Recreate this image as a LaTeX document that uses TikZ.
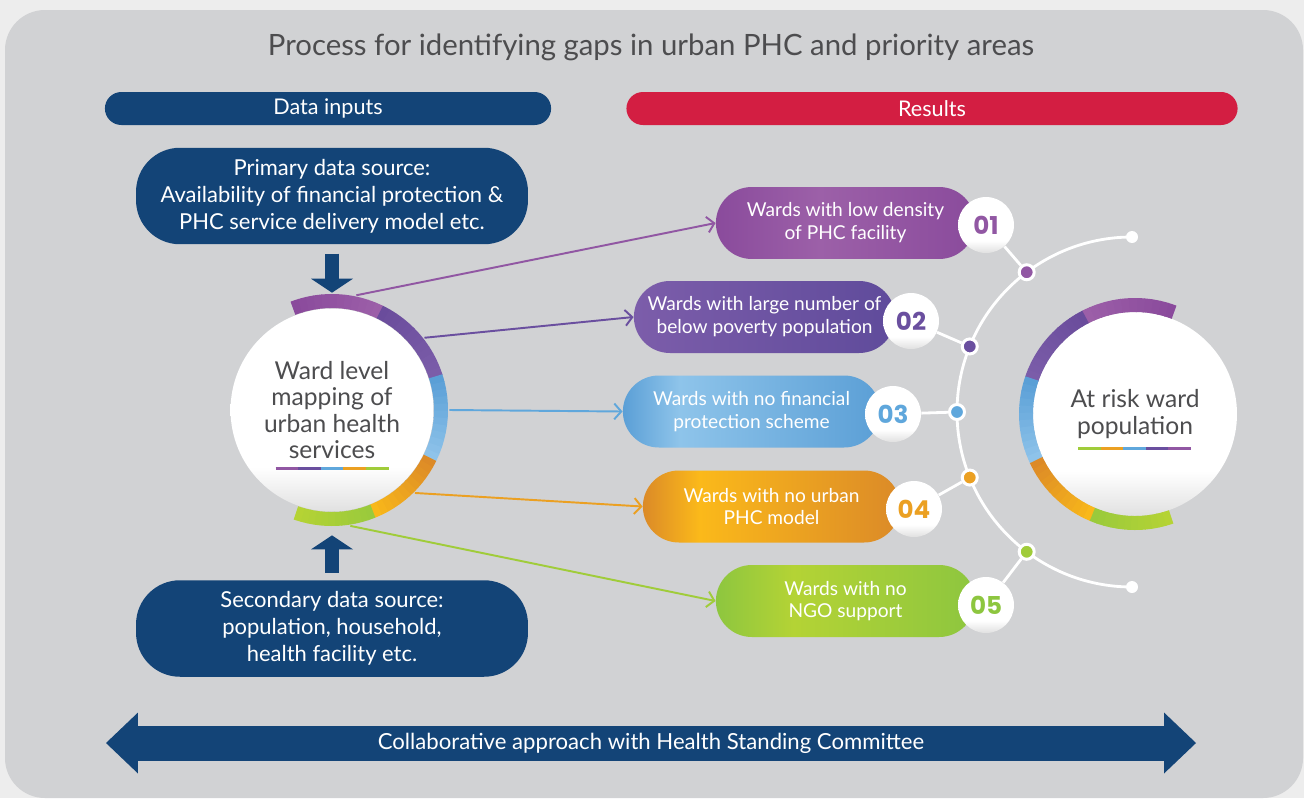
\documentclass[tikz,border=0pt]{standalone}
\usepackage{fontspec}
\setmainfont{Lato}
\newfontfamily\numfont{Poppins}
\usetikzlibrary{arrows.meta,shapes.misc,calc}

\definecolor{outerbg}{HTML}{EDEDED}
\definecolor{panelgray}{HTML}{D1D2D4}
\definecolor{navy}{HTML}{134477}
\definecolor{resred}{HTML}{D31E42}
\definecolor{txtgray}{HTML}{4D4D4F}
\definecolor{purpA}{HTML}{9157A3}
\definecolor{purpB}{HTML}{6A4F9F}
\definecolor{blueC}{HTML}{5FA7DC}
\definecolor{orngC}{HTML}{EBA022}
\definecolor{grenC}{HTML}{A0CC3A}

% ring colours (start / end of each segment)
\definecolor{rPAa}{HTML}{8A4A9C}
\definecolor{rPAb}{HTML}{9C5FA8}
\definecolor{rPBa}{HTML}{6A4C9C}
\definecolor{rPBb}{HTML}{7B5DA9}
\definecolor{rBLa}{HTML}{5A9FD6}
\definecolor{rBLb}{HTML}{8EC3EA}
\definecolor{rORa}{HTML}{DC8A27}
\definecolor{rORb}{HTML}{F9B81A}
\definecolor{rGRa}{HTML}{9ACA3C}
\definecolor{rGRb}{HTML}{B5D334}

% pill colours
\definecolor{pOneD}{HTML}{8A4B9C}
\definecolor{pOneL}{HTML}{9C60A8}
\definecolor{pTwoL}{HTML}{7C5DAA}
\definecolor{pTwoD}{HTML}{5F4B9B}
\definecolor{pThrD}{HTML}{5B9FD6}
\definecolor{pThrL}{HTML}{8EC4EA}
\definecolor{pFouD}{HTML}{DB8A28}
\definecolor{pFouL}{HTML}{FBB91A}
\definecolor{pFivD}{HTML}{8DC63F}
\definecolor{pFivL}{HTML}{B4D335}

\pgfdeclareverticalshading{discshade}{100bp}{color(0bp)=(black!14); color(25bp)=(black!12); color(36bp)=(white); color(100bp)=(white)}
\pgfdeclarehorizontalshading{pillone}{100bp}{color(0bp)=(pOneD); color(25bp)=(pOneD); color(45bp)=(pOneL); color(75bp)=(pOneD); color(100bp)=(pOneD)}
\pgfdeclarehorizontalshading{pilltwo}{100bp}{color(0bp)=(pTwoL); color(25bp)=(pTwoL); color(75bp)=(pTwoD); color(100bp)=(pTwoD)}
\pgfdeclarehorizontalshading{pillthree}{100bp}{color(0bp)=(pThrD); color(25bp)=(pThrD); color(36bp)=(pThrL); color(75bp)=(pThrD); color(100bp)=(pThrD)}
\pgfdeclarehorizontalshading{pillfour}{100bp}{color(0bp)=(pFouD); color(25bp)=(pFouD); color(36bp)=(pFouL); color(75bp)=(pFouD); color(100bp)=(pFouD)}
\pgfdeclarehorizontalshading{pillfive}{100bp}{color(0bp)=(pFivD); color(25bp)=(pFivD); color(40bp)=(pFivL); color(75bp)=(pFivD); color(100bp)=(pFivD)}

\begin{document}
\begin{tikzpicture}[x=0.02cm, y=0.02cm,
    bar/.style={rounded rectangle, minimum height=0.66cm, text=white, font=\fontsize{12.3}{14}\selectfont},
    srcbox/.style={fill=navy, rounded corners=25pt, minimum width=7.84cm, minimum height=1.93cm, text=white, align=center, font=\fontsize{12.5}{15.4}\selectfont},
    disc/.style={circle, shade, shading=discshade, inner sep=0pt, text=txtgray, align=center, font=\fontsize{14}{15}\selectfont},
    ringzone/.style={circle, minimum size=4.68cm, inner sep=0pt},
    ring/.style={draw=#1, line width=0.28cm},
    pill/.style={rounded rectangle, shade, shading=#1, minimum height=1.44cm, text=white, align=center, font=\fontsize{10.9}{13}\selectfont},
    badge/.style={circle, shade, shading=discshade, minimum size=1.12cm, inner sep=0pt, text=#1, font=\numfont\bfseries\fontsize{14}{14}\selectfont},
    link/.style={draw=#1, line width=1.1pt, -{Straight Barb[length=4pt,width=9pt]}},
    spoke/.style={draw=white, line width=1.6pt},
    dot/.style={circle, fill=#1, draw=white, line width=0.06cm, minimum size=0.3cm, inner sep=0pt},
    enddot/.style={circle, fill=white, minimum size=0.24cm, inner sep=0pt},
    blockarrow/.style={draw=navy, line width=0.28cm, -{Triangle[length=0.28cm, width=0.84cm, line width=0pt]}},
    collab/.style={draw=navy, line width=0.7cm, {Triangle[length=0.64cm, width=1.22cm, line width=0pt]}-{Triangle[length=0.64cm, width=1.22cm, line width=0pt]}}
  ]
    \useasboundingbox (0,0) rectangle (1304,-798);
    % background
    \fill[outerbg] (0,0) rectangle (1304,-798);
    \fill[panelgray, rounded corners=0.8cm] (5,-10) rectangle (1303,-798);

    % title and headers
    \node[font=\fontsize{16.7}{19}\selectfont, text=txtgray] (title) at (651,-47) {Process for identifying gaps in urban PHC and priority areas};
    \node[bar, fill=navy, minimum width=9.16cm] (inputs) at (328,-108.5) {Data inputs};
    \node[bar, fill=resred, minimum width=12.46cm] (results) at (932,-108.5) {Results};

    % data sources
    \node[srcbox] (prim) at (332,-196) {Primary data source:\\Availability of financial protection \&\\PHC service delivery model etc.};
    \node[srcbox] (sec) at (332,-628.5) {Secondary data source:\\population, household,\\health facility etc.};

    % ward circle
    \node[disc, minimum size=4.06cm] (ward) at (332,-410) {Ward level\\mapping of\\urban health\\services};
    \node[ringzone] (wardring) at (ward.center) {};
    \draw[blockarrow, shorten <=0.18cm] (prim) -- (wardring);
    \draw[blockarrow, shorten <=0.14cm, shorten >=0.16cm] (sec) -- (wardring);

    % the results
    \node[pill=pillone, minimum width=5.42cm] (p1) at (845.5,-223) {Wards with low density\\of PHC facility};
    \node[pill=pilltwo, minimum width=5.46cm] (p2) at (764.5,-317) {Wards with large number of\\below poverty population};
    \node[pill=pillthree, minimum width=5.38cm] (p3) at (751.5,-411.5) {Wards with no financial\\protection scheme};
    \node[pill=pillfour, minimum width=5.38cm] (p4) at (771.5,-506.5) {Wards with no urban\\PHC model};
    \node[pill=pillfive, minimum width=5.42cm] (p5) at (845.5,-601) {Wards with no\\NGO support};

    % draw the arrows
    \draw[link=purpA] (wardring.78) -- (p1.west);
    \draw[link=purpB] (wardring.38) -- (p2.west);
    \draw[link=blueC] (wardring.0) -- (p3.west);
    \draw[link=orngC] (wardring.-45) -- (p4.west);
    \draw[link=grenC] (wardring.-81) -- (p5.west);

    \foreach \a/\b/\c/\d in {111/64/rPAa/rPAb, 64/18/rPBa/rPBb, 18/-26/rBLa/rBLb, -26/-68/rORa/rORb, -68/-109/rGRa/rGRb}
        \foreach \k in {0,...,11} {
            \pgfmathsetmacro\s{\a+(\b-\a)*\k/12}
            \pgfmathsetmacro\e{\a+(\b-\a)*(\k+1.1)/12}
            \pgfmathtruncatemacro\p{\k*100/11}
            \draw[ring=\d!\p!\c] (ward.center) ++(\s:109) arc[start angle=\s, end angle=\e, radius=109];
        }
    \foreach \c [count=\i from 0] in {purpA,purpB,blueC,orngC,grenC}
        \draw[\c, line width=1.7pt] ($(ward.center)+(-56.5+\i*22.6,-58)$) -- ++(22.6,0);

    % the arc with the dots
    \coordinate (arcc) at (1132,-412);
    \draw[spoke] (arcc) ++(90:175) arc[start angle=90, end angle=270, radius=175];
    \node[enddot] (e1) at ($(arcc)+(90:175)$) {};
    \node[enddot] (e2) at ($(arcc)+(270:175)$) {};
    \node[dot=purpA] (d1) at ($(arcc)+(127:175)$) {};
    \node[dot=purpB] (d2) at ($(arcc)+(158:175)$) {};
    \node[dot=blueC] (d3) at ($(arcc)+(180:175)$) {};
    \node[dot=orngC] (d4) at ($(arcc)+(202:175)$) {};
    \node[dot=grenC] (d5) at ($(arcc)+(233:175)$) {};

    \node[badge=purpA] (b1) at (986,-225) {01};
    \node[badge=purpB] (b2) at (911,-321) {02};
    \node[badge=blueC] (b3) at (893,-414) {03};
    \node[badge=orngC] (b4) at (914,-509) {04};
    \node[badge=pFivD] (b5) at (986,-605) {05};
    \draw[spoke] (b1) -- (d1);
    \draw[spoke] (b2) -- (d2);
    \draw[spoke] (b3) -- (d3);
    \draw[spoke] (b4) -- (d4);
    \draw[spoke] (b5) -- (d5);

    % at risk circle
    \node[disc, minimum size=4.08cm] (risk) at (1135,-414) {At risk ward\\population};
    \foreach \a/\b/\c/\d in {69/117/rPAa/rPAb, 117/161/rPBa/rPBb, 161/205/rBLa/rBLb, 205/247/rORa/rORb, 247/289/rGRa/rGRb}
        \foreach \k in {0,...,11} {
            \pgfmathsetmacro\s{\a+(\b-\a)*\k/12}
            \pgfmathsetmacro\e{\a+(\b-\a)*(\k+1.1)/12}
            \pgfmathtruncatemacro\p{\k*100/11}
            \draw[ring=\d!\p!\c] (risk.center) ++(\s:109) arc[start angle=\s, end angle=\e, radius=109];
        }
    \foreach \c [count=\i from 0] in {grenC,orngC,blueC,purpB,purpA}
        \draw[\c, line width=1.7pt] ($(risk.center)+(-57+\i*22.6,-34)$) -- ++(22.6,0);

    % bottom arrow
    \coordinate (cl) at (106,-743);
    \coordinate (cr) at (1196,-743);
    \draw[collab] (cl) -- (cr);
    \node[text=white, font=\fontsize{12.6}{14}\selectfont] (collabtxt) at (651,-743) {Collaborative approach with Health Standing Committee};
\end{tikzpicture}
\end{document}
